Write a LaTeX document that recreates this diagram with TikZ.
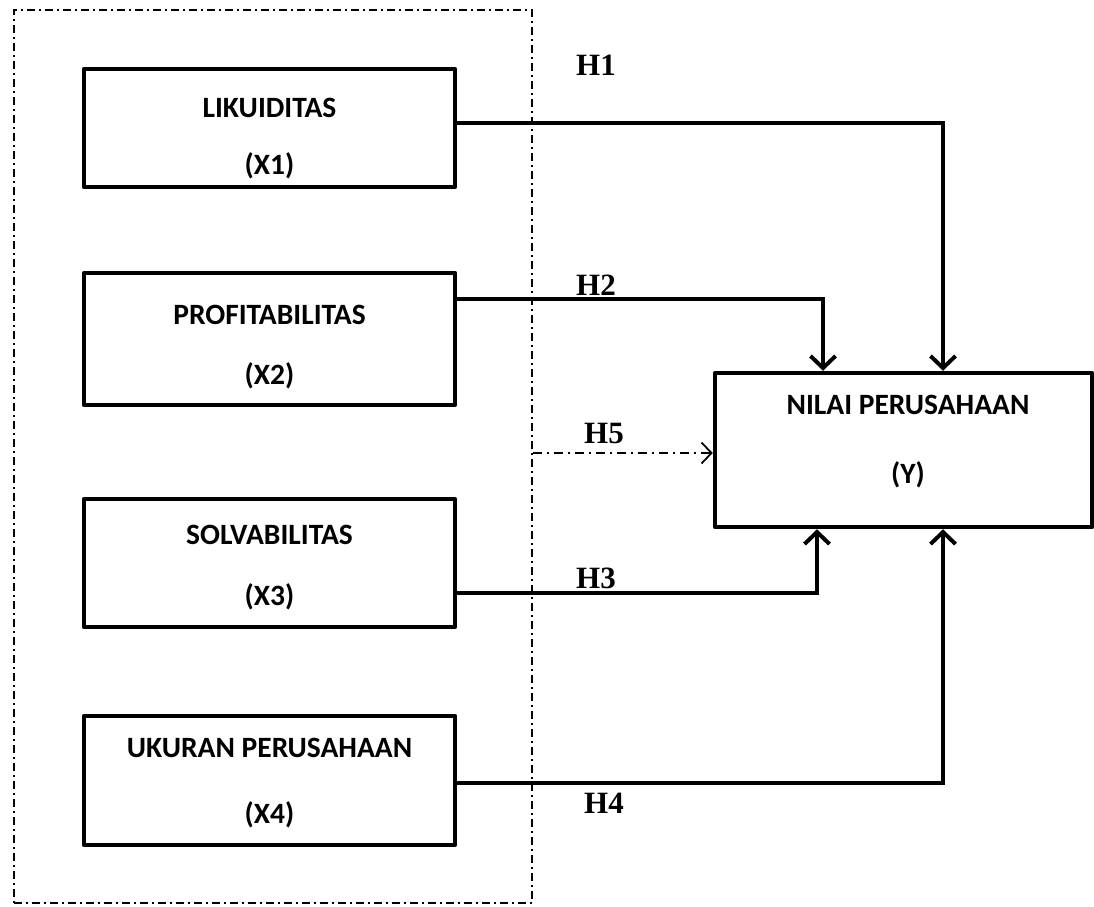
\documentclass[tikz,border=0pt]{standalone}
\usepackage{fontspec}
\setmainfont{Liberation Serif}
\newfontfamily\boxfont{Carlito}
\usetikzlibrary{arrows.meta}
\tikzset{
  box/.style={draw=black, line width=4.5pt, rectangle, minimum width=371pt, inner sep=0pt, line join=round},
  boxtext/.style={font=\boxfont\bfseries\fontsize{29.5}{34}\selectfont, inner sep=0pt},
  hlabel/.style={font=\bfseries\fontsize{31}{35}\selectfont, inner sep=0pt},
  conn/.style={line width=4.5pt, line join=miter, -{Straight Barb[length=12pt,width=25pt,line width=4pt]}},
  dashdot/.style={line width=1.5pt, dash pattern=on 8pt off 4pt on 2pt off 4pt},
  hfive/.style={line width=1.5pt, dash pattern=on 9pt off 5pt on 2pt off 5pt, -{Straight Barb[length=10pt,width=21pt,line width=1.8pt]}}
}
\begin{document}
\begin{tikzpicture}[x=1pt,y=-1pt]
\useasboundingbox (0,0) rectangle (1094,906);
% group frame
\node[draw, dashdot, rectangle, minimum width=518pt, minimum height=893pt, inner sep=0pt] (grp) at (273,456.5) {};
% left boxes
\node[box, minimum height=118pt] (x1) at (269.5,128) {};
\node[boxtext] (x1a) at (269.5,108) {LIKUIDITAS};
\node[boxtext] (x1b) at (269.5,166) {(X1)};
\node[box, minimum height=132pt] (x2) at (269.5,339) {};
\node[boxtext] (x2a) at (269.5,315) {PROFITABILITAS};
\node[boxtext] (x2b) at (269.5,376) {(X2)};
\node[box, minimum height=128pt] (x3) at (269.5,563) {};
\node[boxtext] (x3a) at (269.5,535) {SOLVABILITAS};
\node[boxtext] (x3b) at (269.5,597) {(X3)};
\node[box, minimum height=129pt] (x4) at (269.5,780.5) {};
\node[boxtext] (x4a) at (269.5,748) {UKURAN PERUSAHAAN};
\node[boxtext] (x4b) at (269.5,815) {(X4)};
% dependent box
\node[box, minimum width=377pt, minimum height=154pt] (y) at (903.5,450) {};
\node[boxtext] (ya) at (908,405) {NILAI PERUSAHAAN};
\node[boxtext] (yb) at (908,475) {(Y)};
% bend coordinates
\coordinate (h1c) at (943,123);
\coordinate (h2c) at (823,299);
\coordinate (h3c) at (817,593);
\coordinate (h4c) at (943,783);
\coordinate (h5c) at (0,453);
% connectors
\draw[conn] (x1.east |- h1c) -- (h1c) -- (h1c |- y.north);
\draw[conn] (x2.east |- h2c) -- (h2c) -- (h2c |- y.north);
\draw[conn] (x3.east |- h3c) -- (h3c) -- (h3c |- y.south);
\draw[conn] (x4.east |- h4c) -- (h4c) -- (h4c |- y.south);
\draw[hfive] (grp.east |- h5c) -- (y.west |- h5c);
% labels
\node[hlabel] (l1) at (596,65) {H1};
\node[hlabel] (l2) at (596,285) {H2};
\node[hlabel] (l5) at (604,433) {H5};
\node[hlabel] (l3) at (596,578) {H3};
\node[hlabel] (l4) at (604,803) {H4};
\end{tikzpicture}
\end{document}
